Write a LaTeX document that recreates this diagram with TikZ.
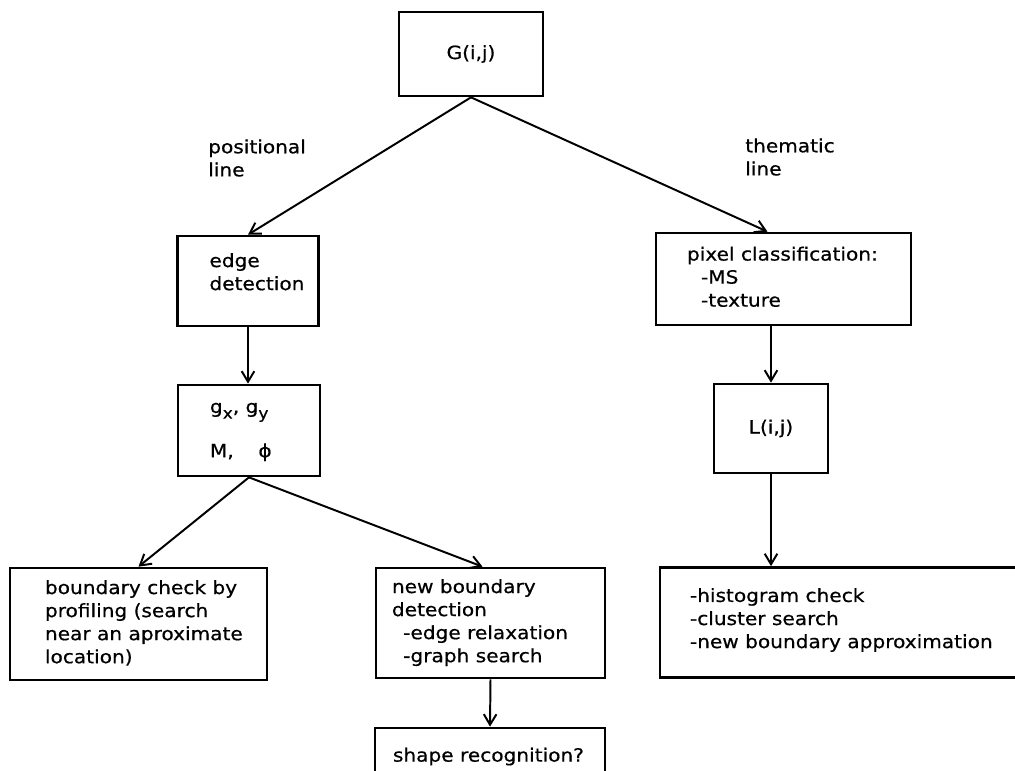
\documentclass[tikz,border=0pt]{standalone}
\usepackage{fontspec}
\setmainfont[FakeStretch=1.1,FakeBold=0.6]{DejaVu Sans}
\usetikzlibrary{arrows.meta}
\newcommand{\lefttext}[2]{\makebox[#1][l]{\begin{tabular}{@{}l@{}}#2\end{tabular}}}
\newcommand{\lowidx}[1]{\raisebox{-4pt}{\fontsize{11}{13}\selectfont #1}}

\begin{document}
\begin{tikzpicture}[x=0.025cm, y=-0.025cm, >={Straight Barb[length=7.5pt,width=9pt]},
    every node/.style={font=\fontsize{13}{16.4}\selectfont},
    box/.style={draw, line width=1.9pt, inner sep=0pt},
    flow/.style={->, line width=1.4pt},
    lbl/.style={align=left, inner sep=0pt, anchor=west}]
    \useasboundingbox (0,0) rectangle (1015,771);

    % Eingangsbild
    \node[box, minimum width=3.6cm, minimum height=2.1cm] (img) at (471,54) {G(i,j)};

    % Zweig: positional line
    \node[lbl] (pos) at (208,158) {positional\\line};
    \node[box, minimum width=3.525cm, minimum height=2.25cm] (edge) at (248,281) {\lefttext{1.925cm}{edge\\detection\\[10pt]}};
    \node[box, minimum width=3.55cm, minimum height=2.275cm] (grad) at (249,430.5) {\lefttext{1.95cm}{g\lowidx{x}, g\lowidx{y}\\[15pt]M, \quad ϕ}};
    \node[box, minimum width=6.425cm, minimum height=2.8cm] (check) at (138.5,624) {\lefttext{4.675cm}{boundary check by\\profiling (search\\near an aproximate\\location)}};
    \node[box, minimum width=5.725cm, minimum height=2.75cm] (newb) at (490.5,623) {\lefttext{4.925cm}{new boundary\\detection\\\hspace{8pt}-edge relaxation\\\hspace{8pt}-graph search}};
    \node[box, minimum width=5.75cm, minimum height=1.45cm] (shape) at (490,757) {\lefttext{4.85cm}{shape recognition?}};

    % Zweig: thematic line
    \node[lbl] (them) at (745,157) {thematic\\line};
    \node[box, minimum width=6.375cm, minimum height=2.3cm] (pix) at (783.5,279) {\lefttext{4.825cm}{pixel classification:\\\hspace{10pt}-MS\\\hspace{10pt}-texture}};
    \node[box, minimum width=2.85cm, minimum height=2.225cm] (lab) at (771,428.5) {L(i,j)};
    \node[box, minimum width=9.25cm, minimum height=2.75cm] (clus) at (845,622.5) {\lefttext{7.75cm}{-histogram check\\-cluster search\\-new boundary approximation\\[3pt]}};

    % Pfeile
    \draw[flow] (img.south) -- (edge.north);
    \draw[flow] (img.south) -- ([xshift=-0.4cm]pix.north);
    \draw[flow] (edge.south) -- (edge.south |- grad.north);
    \draw[flow] (grad.south) -- (check.north);
    \draw[flow] (grad.south) -- ([xshift=-0.2cm]newb.north);
    \draw[flow] (newb.south) -- (shape.north);
    \draw[flow] (pix.south -| lab.north) -- (lab.north);
    \draw[flow] (lab.south) -- (lab.south |- clus.north);
\end{tikzpicture}
\end{document}
